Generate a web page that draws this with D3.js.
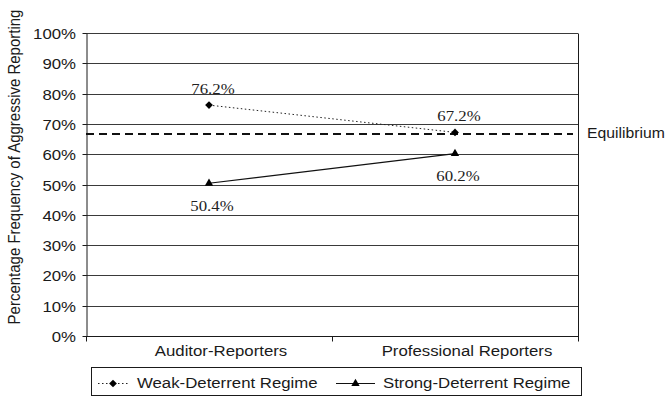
<!DOCTYPE html>
<html>
<head>
<meta charset="utf-8">
<script src="https://cdn.jsdelivr.net/npm/d3@7/dist/d3.min.js"></script>
<style>
  html, body { margin: 0; padding: 0; background: #fff; }
  svg { display: block; }
</style>
</head>
<body>
<svg id="chart" width="668" height="398"></svg>
<script>
// Data
const categories = ["Auditor-Reporters", "Professional Reporters"];
const weakValues = [0.762, 0.672];
const strongValues = [0.504, 0.602];
const weakLabels = ["76.2%", "67.2%"];
const strongLabels = ["50.4%", "60.2%"];
const equilibrium = 0.667;
const yTicks = [0, 0.1, 0.2, 0.3, 0.4, 0.5, 0.6, 0.7, 0.8, 0.9, 1.0];
const yTitle = "Percentage Frequency of Aggressive Reporting";
const equilibriumLabel = "Equilibrium";
const legendNames = ["Weak-Deterrent Regime", "Strong-Deterrent Regime"];

// Layout
const W = 668, H = 398;
const plot = { left: 86, right: 578, top: 33, bottom: 336 };
const SX = 1.12; // horizontal glyph stretch
const sans = "'Liberation Sans', Arial, Helvetica, sans-serif";
const serif = "'Liberation Serif', 'Times New Roman', serif";
const ink = "#1a1a1a";

const svg = d3.select("#chart");

const x = d3.scaleBand().domain(categories).range([plot.left, plot.right]).padding(0);
const xc = c => x(c) + x.bandwidth() / 2;
const y = d3.scaleLinear().domain([0, 1]).range([plot.bottom, plot.top]);
const crisp = v => Math.round(v) + 0.5;

// stretched text helper
function stext(g, px, py, str, opts) {
  return g.append("text")
    .attr("transform", `translate(${px},${py}) scale(${opts.sx || SX},1)`)
    .attr("font-family", opts.font || sans)
    .attr("font-size", opts.size || 15)
    .attr("text-anchor", opts.anchor || "start")
    .attr("fill", opts.fill || ink)
    .text(str);
}

// gridlines
svg.append("g").selectAll("line")
  .data(yTicks.filter(t => t > 0))
  .join("line")
  .attr("x1", plot.left).attr("x2", plot.right)
  .attr("y1", d => crisp(y(d))).attr("y2", d => crisp(y(d)))
  .attr("stroke", "#3a3a3a").attr("stroke-width", 1);

// right border
svg.append("line")
  .attr("x1", plot.right + 0.5).attr("x2", plot.right + 0.5)
  .attr("y1", crisp(y(1))).attr("y2", crisp(y(0)))
  .attr("stroke", ink).attr("stroke-width", 1);

// y axis
const yAxis = svg.append("g")
  .attr("transform", `translate(${plot.left + 0.5},0)`)
  .call(d3.axisLeft(y).tickValues(yTicks).tickSize(4).tickSizeOuter(0)
    .tickFormat(d3.format(".0%")));
yAxis.select(".domain").attr("stroke", ink);
yAxis.selectAll(".tick line").attr("stroke", ink);
yAxis.selectAll(".tick").attr("transform", d => `translate(0,${crisp(y(d))})`);
yAxis.selectAll(".tick text")
  .attr("x", null).attr("dy", null)
  .attr("transform", `translate(-10.5,5) scale(${SX},1)`)
  .attr("font-family", sans).attr("font-size", 15).attr("fill", ink);

// x axis line and band boundary ticks
svg.append("line")
  .attr("x1", plot.left).attr("x2", plot.right + 1)
  .attr("y1", crisp(y(0))).attr("y2", crisp(y(0)))
  .attr("stroke", ink);
const edges = categories.map(c => x(c)).concat([x.range()[1]]);
svg.append("g").selectAll("line")
  .data(edges).join("line")
  .attr("x1", d => Math.round(d) + 0.5).attr("x2", d => Math.round(d) + 0.5)
  .attr("y1", crisp(y(0))).attr("y2", crisp(y(0)) + 5)
  .attr("stroke", ink);

// category labels
const catG = svg.append("g");
categories.forEach(c => stext(catG, xc(c) + 12, 355.5, c, { anchor: "middle" }));

// equilibrium line
svg.append("line")
  .attr("x1", plot.left).attr("x2", plot.right - 5)
  .attr("y1", y(equilibrium)).attr("y2", y(equilibrium))
  .attr("stroke", "#111").attr("stroke-width", 2)
  .attr("stroke-dasharray", "8,5");
stext(svg, 587, y(equilibrium) + 4.5, equilibriumLabel, { sx: 1.05 });

// series lines
const line = d3.line().x(d => xc(d[0])).y(d => y(d[1]));
const weakPts = categories.map((c, i) => [c, weakValues[i]]);
const strongPts = categories.map((c, i) => [c, strongValues[i]]);

svg.append("path").datum(weakPts)
  .attr("d", line).attr("fill", "none")
  .attr("stroke", "#222").attr("stroke-width", 1)
  .attr("stroke-dasharray", "1.5,2.5");
svg.append("path").datum(strongPts)
  .attr("d", line).attr("fill", "none")
  .attr("stroke", "#111").attr("stroke-width", 1.1);

const diamond = d3.symbol().type(d3.symbolSquare).size(30);
const triangle = d3.symbol().type(d3.symbolTriangle).size(30);

svg.append("g").selectAll("path")
  .data(weakPts).join("path")
  .attr("d", diamond)
  .attr("transform", d => `translate(${xc(d[0])},${y(d[1])}) rotate(45)`)
  .attr("fill", "#000");
svg.append("g").selectAll("path")
  .data(strongPts).join("path")
  .attr("d", triangle)
  .attr("transform", d => `translate(${xc(d[0])},${y(d[1])})`)
  .attr("fill", "#000");

// value labels
const lblG = svg.append("g");
weakPts.forEach((d, i) =>
  stext(lblG, xc(d[0]) + 4, y(d[1]) - 11.5, weakLabels[i], { font: serif, anchor: "middle", fill: "#222" }));
strongPts.forEach((d, i) =>
  stext(lblG, xc(d[0]) + 3, y(d[1]) + 27.5, strongLabels[i], { font: serif, anchor: "middle", fill: "#222" }));

// y axis title
svg.append("text")
  .attr("transform", `translate(19.5,167) scale(${SX},1) rotate(-90)`)
  .attr("font-family", sans).attr("font-size", 15)
  .attr("text-anchor", "middle").attr("fill", ink)
  .text(yTitle);

// legend
const lg = svg.append("g");
lg.append("rect")
  .attr("x", 91.5).attr("y", 367.5).attr("width", 490).attr("height", 28)
  .attr("fill", "#fff").attr("stroke", ink);
const legY = 383.5;
lg.append("line").attr("x1", 98).attr("x2", 128).attr("y1", legY).attr("y2", legY)
  .attr("stroke", "#222").attr("stroke-dasharray", "1.5,2.5");
lg.append("path").attr("d", diamond)
  .attr("transform", `translate(113,${legY}) rotate(45)`).attr("fill", "#000");
stext(lg, 137, 388, legendNames[0], {});
lg.append("line").attr("x1", 336).attr("x2", 375).attr("y1", legY).attr("y2", legY)
  .attr("stroke", "#111");
lg.append("path").attr("d", triangle)
  .attr("transform", `translate(355.5,${legY})`).attr("fill", "#000");
stext(lg, 383, 388, legendNames[1], {});
</script>
</body>
</html>
